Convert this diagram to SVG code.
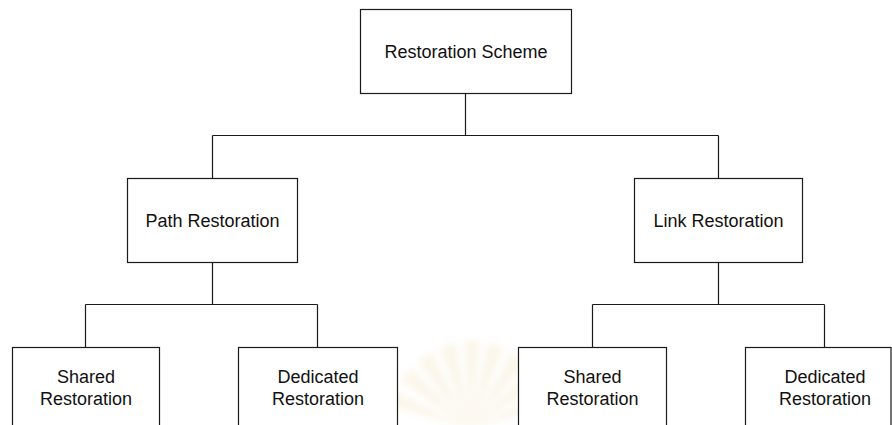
<svg xmlns="http://www.w3.org/2000/svg" width="892" height="425" viewBox="0 0 892 425">
  <style>
    .box { fill: #ffffff; stroke: #1a1a1a; stroke-width: 1.2; }
    .wire { fill: none; stroke: #1a1a1a; stroke-width: 1.2; }
    .label { font-family: "Liberation Sans", Arial, sans-serif; font-size: 18px; fill: #111111; text-anchor: middle; }
  </style>
  <defs>
    <filter id="soft" x="-20%" y="-20%" width="140%" height="140%">
      <feGaussianBlur stdDeviation="3.5"/>
    </filter>
  </defs>
  <rect width="892" height="425" fill="#ffffff"/>

  <!-- faint seal watermark -->
  <g id="watermark" opacity="0.2" filter="url(#soft)" fill="#ecd49a">
    <path d="M470 430 L400 380 L412 368 Z"/>
    <path d="M470 430 L418 362 L432 352 Z"/>
    <path d="M470 430 L440 348 L456 342 Z"/>
    <path d="M470 430 L464 340 L480 340 Z"/>
    <path d="M470 430 L488 342 L504 348 Z"/>
    <path d="M470 430 L512 352 L526 362 Z"/>
    <path d="M470 430 L532 368 L544 380 Z"/>
    <path d="M470 430 L548 390 L556 404 Z"/>
    <path d="M470 430 L386 404 L394 390 Z"/>
  </g>

  <!-- connectors -->
  <g id="connectors">
    <path class="wire" d="M465.5 93 V135.5 M212.5 135.5 H718.5 M212.5 135.5 V178 M718.5 135.5 V178"/>
    <path class="wire" d="M212.5 262 V304.5 M85.5 304.5 H317.5 M85.5 304.5 V347 M317.5 304.5 V347"/>
    <path class="wire" d="M718.5 262 V304.5 M592.5 304.5 H824.5 M592.5 304.5 V347 M824.5 304.5 V347"/>
  </g>

  <g id="restoration-scheme">
    <rect class="box" x="360.5" y="9.5" width="211" height="84"/>
    <text class="label" x="466" y="58">Restoration Scheme</text>
  </g>

  <g id="path-restoration">
    <rect class="box" x="127.5" y="178.5" width="170" height="84"/>
    <text class="label" x="212.5" y="227">Path Restoration</text>
  </g>

  <g id="link-restoration">
    <rect class="box" x="634.5" y="178.5" width="168" height="84"/>
    <text class="label" x="718.5" y="227">Link Restoration</text>
  </g>

  <g id="path-shared">
    <rect class="box" x="12.5" y="347.5" width="147" height="90"/>
    <text class="label" x="86" y="383">Shared</text>
    <text class="label" x="86" y="405">Restoration</text>
  </g>

  <g id="path-dedicated">
    <rect class="box" x="238.5" y="347.5" width="159" height="90"/>
    <text class="label" x="318" y="383">Dedicated</text>
    <text class="label" x="318" y="405">Restoration</text>
  </g>

  <g id="link-shared">
    <rect class="box" x="518.5" y="347.5" width="148" height="90"/>
    <text class="label" x="592.5" y="383">Shared</text>
    <text class="label" x="592.5" y="405">Restoration</text>
  </g>

  <g id="link-dedicated">
    <rect class="box" x="745.5" y="347.5" width="145.5" height="90"/>
    <text class="label" x="825" y="383">Dedicated</text>
    <text class="label" x="825" y="405">Restoration</text>
  </g>
</svg>
